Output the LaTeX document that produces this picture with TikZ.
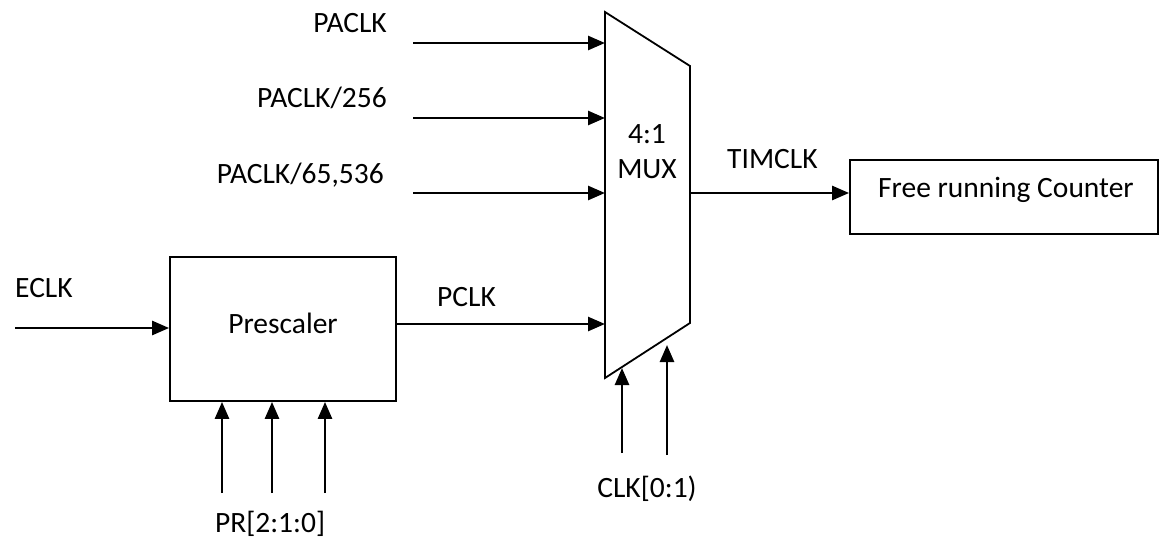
\documentclass[tikz,border=0pt]{standalone}
\usepackage{fontspec}
\setmainfont{Carlito}
\usetikzlibrary{arrows.meta}
\begin{document}
\begin{tikzpicture}[x=1pt,y=-1pt,
  wire/.style={line width=2.6pt,-{Triangle[length=17pt,width=14pt]}},
  lbl/.style={inner sep=0pt,font=\fontsize{29.5}{35}\selectfont},
  blk/.style={draw,line width=1.8pt,inner sep=0pt}]
\useasboundingbox (0,0) rectangle (1159,538);
% MUX trapezoid
\coordinate (mtl) at (605,12);
\coordinate (mtr) at (690,66);
\coordinate (mbr) at (690,323);
\coordinate (mbl) at (605,378);
\draw[line width=1.8pt,line join=miter] (mtl) -- (mtr) -- (mbr) -- (mbl) -- cycle;
\node[lbl,anchor=base] (m1) at (647,143) {4:1};
\node[lbl,anchor=base] (m2) at (647,178) {MUX};
% blocks
\node[blk,minimum width=226pt,minimum height=144pt] (pre) at (283,329) {};
\node[lbl,anchor=base] (pret) at (283,333) {Prescaler};
\node[blk,minimum width=308pt,minimum height=74pt] (cnt) at (1004,197) {};
\node[lbl,anchor=base] (cntt) at (1006,197) {Free running Counter};
% input coordinates
\coordinate (i1s) at (413,43);  \coordinate (i1e) at (605,43);
\coordinate (i2s) at (413,118); \coordinate (i2e) at (605,118);
\coordinate (i3s) at (413,193); \coordinate (i3e) at (605,193);
\coordinate (i4e) at (605,324);
\coordinate (es) at (15,328);
\coordinate (os) at (690,193);
\draw[wire] (i1s) -- (i1e);
\draw[wire] (i2s) -- (i2e);
\draw[wire] (i3s) -- (i3e);
\draw[wire] (pre.east |- i4e) -- (i4e);
\draw[wire] (es) -- (es -| pre.west);
\draw[wire] (os) -- (os -| cnt.west);
% PR arrows
\foreach \x/\n in {222/a,272/b,325/c}{
  \coordinate (pr\n) at (\x,493);
  \draw[wire] (pr\n) -- (pr\n |- pre.south);
}
% CLK arrows
\coordinate (c1) at (622,453); \coordinate (c1e) at (622,368);
\coordinate (c2) at (667,455); \coordinate (c2e) at (667,345);
\draw[wire] (c1) -- (c1e);
\draw[wire] (c2) -- (c2e);
% labels
\node[lbl,anchor=base east] (l1) at (387,32) {PACLK};
\node[lbl,anchor=base east] (l2) at (387,107) {PACLK/256};
\node[lbl,anchor=base east] (l3) at (384,183) {PACLK/65,536};
\node[lbl,anchor=base west] (l4) at (15,297) {ECLK};
\node[lbl,anchor=base west] (l5) at (437,306) {PCLK};
\node[lbl,anchor=base west] (l6) at (727,168) {TIMCLK};
\node[lbl,anchor=base] (l7) at (647,497) {CLK[0:1)};
\node[lbl,anchor=base] (l8) at (270,532) {PR[2:1:0]};
\end{tikzpicture}
\end{document}
